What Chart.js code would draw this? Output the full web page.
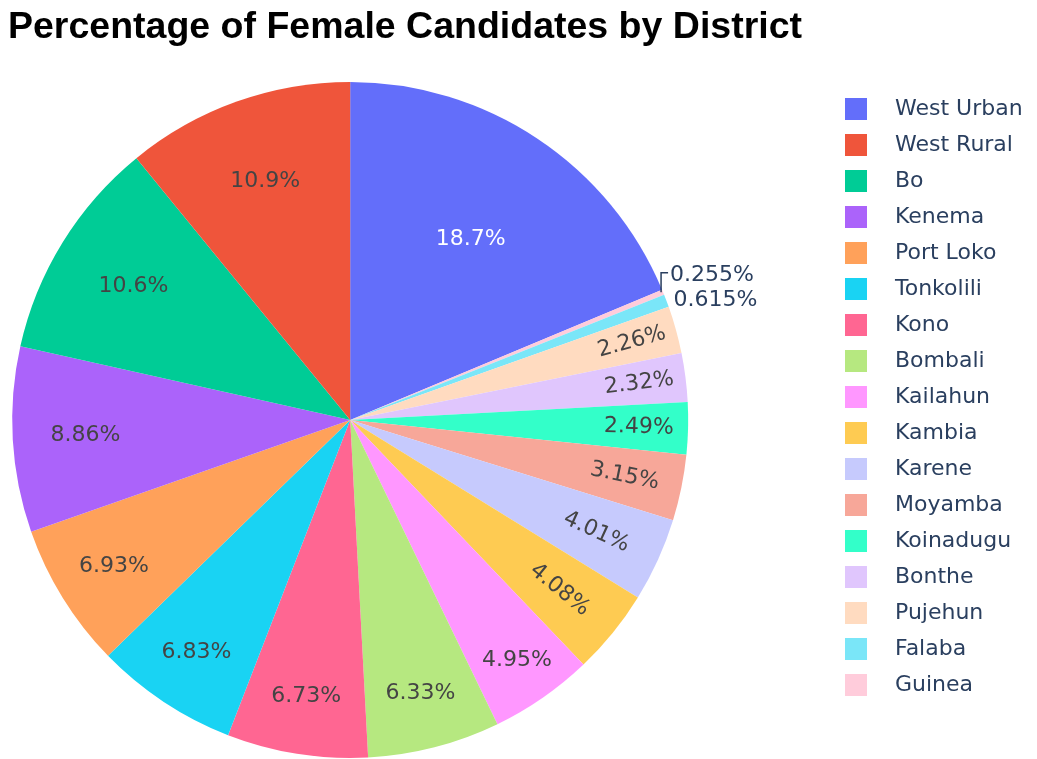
<!DOCTYPE html>
<html>
<head>
<meta charset="utf-8">
<script src="https://cdn.jsdelivr.net/npm/chart.js@4"></script>
<style>
  html, body { margin: 0; padding: 0; background: #fff; }
  #wrap { width: 1037px; height: 759px; }
</style>
</head>
<body>
<div id="wrap"><canvas id="pie" width="1037" height="759"></canvas></div>
<script>
// legend order (largest share first)
const districts = ['West Urban', 'West Rural', 'Bo', 'Kenema', 'Port Loko', 'Tonkolili', 'Kono',
  'Bombali', 'Kailahun', 'Kambia', 'Karene', 'Moyamba', 'Koinadugu', 'Bonthe', 'Pujehun', 'Falaba', 'Guinea'];
const shares = [18.7, 10.9, 10.6, 8.86, 6.93, 6.83, 6.73, 6.33, 4.95, 4.08, 4.01, 3.15, 2.49, 2.32, 2.26, 0.615, 0.255];
const sliceColors = ['#636efa', '#ef553b', '#00cc96', '#ab63fa', '#ffa15a', '#19d3f3', '#ff6692', '#b6e880',
  '#ff97ff', '#fecb52', '#c6cafd', '#f7a799', '#33ffc9', '#e0c6fd', '#ffdbc0', '#7ae6f8', '#ffccdb'];

const FONT = '"DejaVu Sans", Verdana, sans-serif';
const FONT_SIZE = 22;
const PIE_RADIUS = 338;
const LEGEND_X = 845;
const LEGEND_Y = 84;
const TEXT_DARK = '#444';
const TEXT_NAVY = '#2a3f5f';

// biggest slice goes clockwise from 12 o'clock, the rest follow in reverse
const drawOrder = [0].concat(districts.map((d, i) => i).slice(1).reverse());
const pieLabels = drawOrder.map(i => districts[i]);
const pieValues = drawOrder.map(i => shares[i]);
const pieColors = drawOrder.map(i => sliceColors[i]);

function fmtPct(v) { return (+v.toPrecision(3)) + '%'; }

function isDark(hex) {
  const n = parseInt(hex.slice(1), 16);
  const r = n >> 16, g = (n >> 8) & 255, b = n & 255;
  return (r * 299 + g * 587 + b * 114) / 1000 < 128;
}

// square on the left of a wider transparent box, so the text sits further right
function legendSwatch(color) {
  const c = document.createElement('canvas');
  c.width = 39; c.height = 22;
  const g = c.getContext('2d');
  g.fillStyle = color;
  g.fillRect(0, 0, 22, 22);
  return c;
}

const placeLegend = {
  id: 'placeLegend',
  afterLayout(chart) {
    const lg = chart.legend;
    const w = lg.width, h = lg.height;
    lg.left = LEGEND_X - lg.options.labels.padding;
    lg.right = lg.left + w;
    lg.top = LEGEND_Y;
    lg.bottom = lg.top + h;
  }
};

// percent text, placed roughly like plotly does it
const sliceLabels = {
  id: 'sliceLabels',
  afterDatasetsDraw(chart) {
    const ctx = chart.ctx;
    const meta = chart.getDatasetMeta(0);
    const data = chart.data.datasets[0].data;
    const total = data.reduce((a, b) => a + b, 0);
    const outside = [];
    ctx.save();
    ctx.font = FONT_SIZE + 'px ' + FONT;
    ctx.textBaseline = 'middle';
    meta.data.forEach((arc, i) => {
      const { x, y, startAngle, endAngle, outerRadius } =
        arc.getProps(['x', 'y', 'startAngle', 'endAngle', 'outerRadius'], true);
      const mid = (startAngle + endAngle) / 2;
      const p = data[i] / total;
      const text = fmtPct(data[i]);
      const w = ctx.measureText(text).width + 4;
      const h = FONT_SIZE * 1.3;
      const half = Math.PI * Math.min(p, 0.5);

      // horizontal: text must fit in the inscribed circle of the slice
      const sinH = Math.sin(half);
      const rIns = Math.min(sinH / (1 + sinH), 0.5);
      const hScale = rIns * outerRadius * 2 / Math.hypot(w, h);

      // radial
      const a = w / h;
      const rr = outerRadius - 6;
      const q = a + 1 / (2 * Math.tan(half));
      const s = rr * Math.min(1 / (Math.sqrt(q * q + 0.5) + q), 1 / (Math.sqrt(a * a + 0.5) + a));
      const rScale = 2 * s / h;

      ctx.fillStyle = isDark(pieColors[i]) ? '#fff' : TEXT_DARK;
      if (hScale >= 1) {
        const d = (1 - rIns) * outerRadius;
        ctx.textAlign = 'center';
        ctx.fillText(text, x + d * Math.cos(mid), y + d * Math.sin(mid));
      } else if (rScale >= 1) {
        const d = (Math.cos(s / rr) - a * s / rr) * outerRadius;
        const rot = ((mid + Math.PI / 2) % Math.PI + Math.PI) % Math.PI - Math.PI / 2;
        ctx.save();
        ctx.translate(x + d * Math.cos(mid), y + d * Math.sin(mid));
        ctx.rotate(rot);
        ctx.textAlign = 'center';
        ctx.fillText(text, 0, 0);
        ctx.restore();
      } else {
        const x0 = x + outerRadius * Math.cos(mid);
        const y0 = y + outerRadius * Math.sin(mid);
        const right = Math.cos(mid) >= 0;
        outside.push({ text, x0, y0, right, tx: x0 + (right ? 7 : -7), ty: y0 });
      }
    });

    // push overlapping outside labels apart
    outside.sort((m, n) => n.y0 - m.y0);
    for (let k = 1; k < outside.length; k++) {
      const prev = outside[k - 1];
      if (outside[k].ty > prev.ty - 25) outside[k].ty = prev.ty - 25;
    }
    ctx.fillStyle = TEXT_NAVY;
    ctx.strokeStyle = TEXT_NAVY;
    ctx.lineWidth = 1.5;
    outside.forEach(o => {
      if (Math.abs(o.ty - o.y0) > 2) {
        const lx = o.x0 - 2;
        ctx.beginPath();
        ctx.moveTo(lx, o.y0);
        ctx.lineTo(lx, o.ty - 3);
        ctx.lineTo(o.tx + (o.right ? -2 : 2), o.ty - 3);
        ctx.stroke();
      }
      ctx.textAlign = o.right ? 'left' : 'right';
      ctx.fillText(o.text, o.tx, o.ty);
    });
    ctx.restore();
  }
};

new Chart(document.getElementById('pie'), {
  type: 'pie',
  data: {
    labels: pieLabels,
    datasets: [{
      data: pieValues,
      backgroundColor: pieColors,
      borderWidth: 0,
      radius: PIE_RADIUS,
      clip: false
    }]
  },
  options: {
    responsive: false,
    animation: false,
    devicePixelRatio: 1,
    layout: { padding: { left: 8, right: 143, top: 0, bottom: 1 } },
    plugins: {
      title: {
        display: true,
        text: 'Percentage of Female Candidates by District',
        align: 'start',
        color: '#000',
        font: { family: '"Liberation Sans", Arial, sans-serif', size: 37.5, weight: 'bold' },
        padding: { top: 5, bottom: 32 }
      },
      legend: {
        display: true,
        position: 'right',
        align: 'start',
        fullSize: false,
        labels: {
          usePointStyle: true,
          pointStyleWidth: 39,
          boxHeight: 22,
          padding: 14,
          color: TEXT_NAVY,
          font: { family: FONT, size: FONT_SIZE },
          generateLabels: () => pieLabels.map((label, i) => ({
            text: label,
            fillStyle: pieColors[i],
            strokeStyle: pieColors[i],
            lineWidth: 0,
            pointStyle: legendSwatch(pieColors[i]),
            fontColor: TEXT_NAVY,
            hidden: false,
            index: i
          })),
          sort: (a, b) => drawOrder[a.index] - drawOrder[b.index]
        }
      },
      tooltip: { enabled: false }
    }
  },
  plugins: [placeLegend, sliceLabels]
});
</script>
</body>
</html>
